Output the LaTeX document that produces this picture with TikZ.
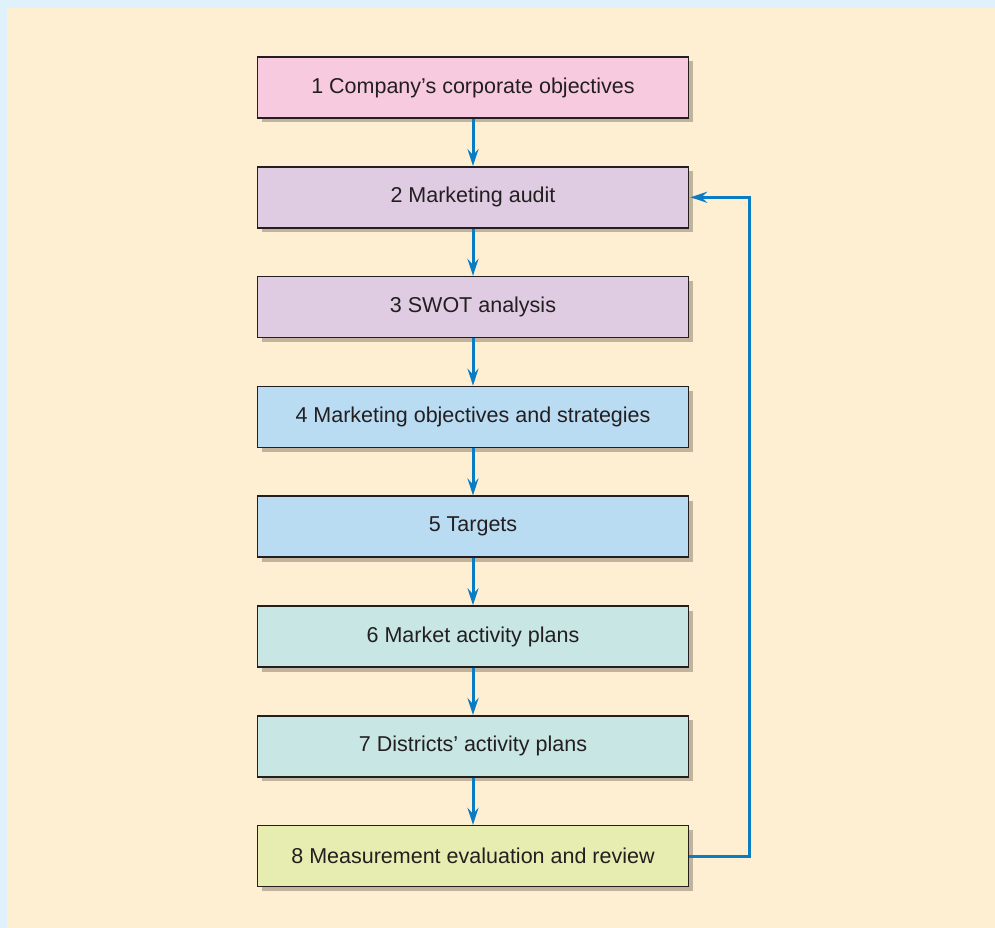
\documentclass[tikz,border=0pt]{standalone}
\usepackage{fontspec}
\setmainfont{Liberation Sans}
\usetikzlibrary{arrows.meta}
\definecolor{outerbg}{HTML}{DFF2FB}
\definecolor{innerbg}{HTML}{FEEFD3}
\definecolor{cpink}{HTML}{F7CADF}
\definecolor{clav}{HTML}{DFCBE2}
\definecolor{cblue}{HTML}{B9DCF3}
\definecolor{cteal}{HTML}{C7E6E4}
\definecolor{cyel}{HTML}{E7EDB0}
\definecolor{shade}{HTML}{C2B49C}
\definecolor{arrowblue}{HTML}{0A7CC4}
\definecolor{txt}{HTML}{231F20}
\begin{document}
\begin{tikzpicture}[x=1pt,y=-1pt,
  stepbox/.style={draw=txt,line width=1.5pt,minimum width=431pt,minimum height=61pt,
    inner sep=0pt,font=\fontsize{21.5}{24}\selectfont,text=txt,
    preaction={fill=shade,transform canvas={xshift=4.5pt,yshift=-4.5pt}}},
  flow/.style={draw=arrowblue,line width=3pt,-{Stealth[length=17pt,width=11pt,inset=6pt]}}]
\fill[outerbg] (0,0) rectangle (995,928);
\fill[innerbg] (7,8) rectangle (995,928);
\useasboundingbox (0,0) rectangle (995,928);
\node[stepbox,fill=cpink] (n1) at (473,87.5) {1 Company’s corporate objectives};
\node[stepbox,fill=clav] (n2) at (473,197.3) {2 Marketing audit};
\node[stepbox,fill=clav] (n3) at (473,307.1) {3 SWOT analysis};
\node[stepbox,fill=cblue] (n4) at (473,416.9) {4 Marketing objectives and strategies};
\node[stepbox,fill=cblue] (n5) at (473,526.7) {5 Targets};
\node[stepbox,fill=cteal] (n6) at (473,636.5) {6 Market activity plans};
\node[stepbox,fill=cteal] (n7) at (473,746.3) {7 Districts’ activity plans};
\node[stepbox,fill=cyel] (n8) at (473,856.1) {8 Measurement evaluation and review};
\foreach \a/\b in {n1/n2,n2/n3,n3/n4,n4/n5,n5/n6,n6/n7,n7/n8}
  \draw[flow] (\a.south) -- (\b.north);
\coordinate (c1) at (749,856.1);
\coordinate (c2) at (749,197.3);
\draw[flow] (n8.east) -- (c1) -- (c2) -- ([xshift=1pt]n2.east);
\end{tikzpicture}
\end{document}
